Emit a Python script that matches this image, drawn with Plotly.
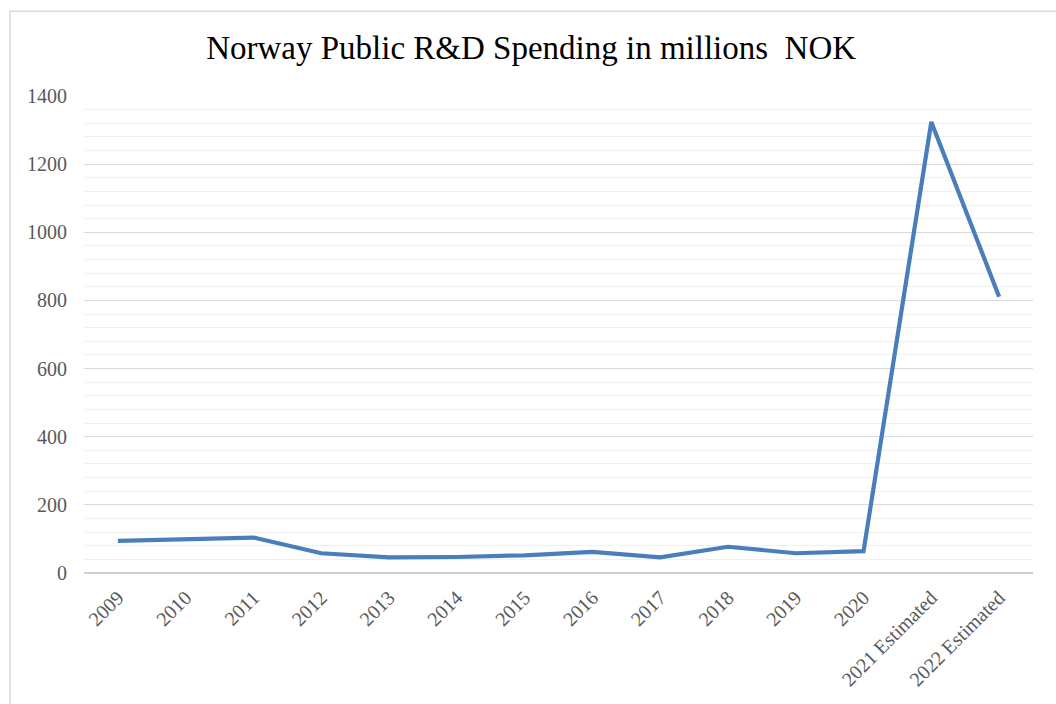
import plotly.graph_objects as go

# Public R&D spending, millions NOK
years = ["2009", "2010", "2011", "2012", "2013", "2014", "2015", "2016",
         "2017", "2018", "2019", "2020", "2021 Estimated", "2022 Estimated"]
spending = [94, 99, 104, 58, 46, 47, 52, 62, 46, 77, 58, 64, 1324, 811]
y_ticks = [0, 200, 400, 600, 800, 1000, 1200, 1400]

serif = "Liberation Serif, Times New Roman, serif"
label_grey = "#595959"

fig = go.Figure()
fig.add_trace(go.Scatter(
    x=years, y=spending, mode="lines",
    line=dict(color="#4a7ebb", width=4.2),
    hoverinfo="x+y",
))

fig.update_layout(
    width=1056, height=704,
    margin=dict(l=84, r=23, t=96, b=131),
    paper_bgcolor="white", plot_bgcolor="white",
    title=dict(text="Norway Public R&amp;D Spending in millions  NOK",
               x=0.503, xanchor="center", y=0.932, yanchor="middle",
               font=dict(family=serif, size=33, color="black")),
    showlegend=False,
    xaxis=dict(
        type="category", range=[-0.5, len(years) - 0.5],
        showgrid=False, zeroline=False, showline=False,
        tickangle=-45, ticks="", ticklabelstandoff=8,
        tickfont=dict(family=serif, size=20, color=label_grey),
    ),
    yaxis=dict(
        range=[0, 1400], tickvals=y_ticks,
        showgrid=True, gridcolor="#d9d9d9", gridwidth=1.3,
        minor=dict(dtick=40, showgrid=True, gridcolor="#f0f0f0", gridwidth=1.2),
        zeroline=True, zerolinecolor="#d0d0d0", zerolinewidth=1.6,
        showline=False, ticks="", ticklabelstandoff=16,
        tickfont=dict(family=serif, size=20, color=label_grey),
    ),
    shapes=[dict(type="rect", xref="paper", yref="paper",
                 x0=-0.078, x1=1.05, y0=-0.5, y1=1.1776,
                 line=dict(color="#d9d9d9", width=1.5), layer="below")],
)

fig.write_html("out.html")
